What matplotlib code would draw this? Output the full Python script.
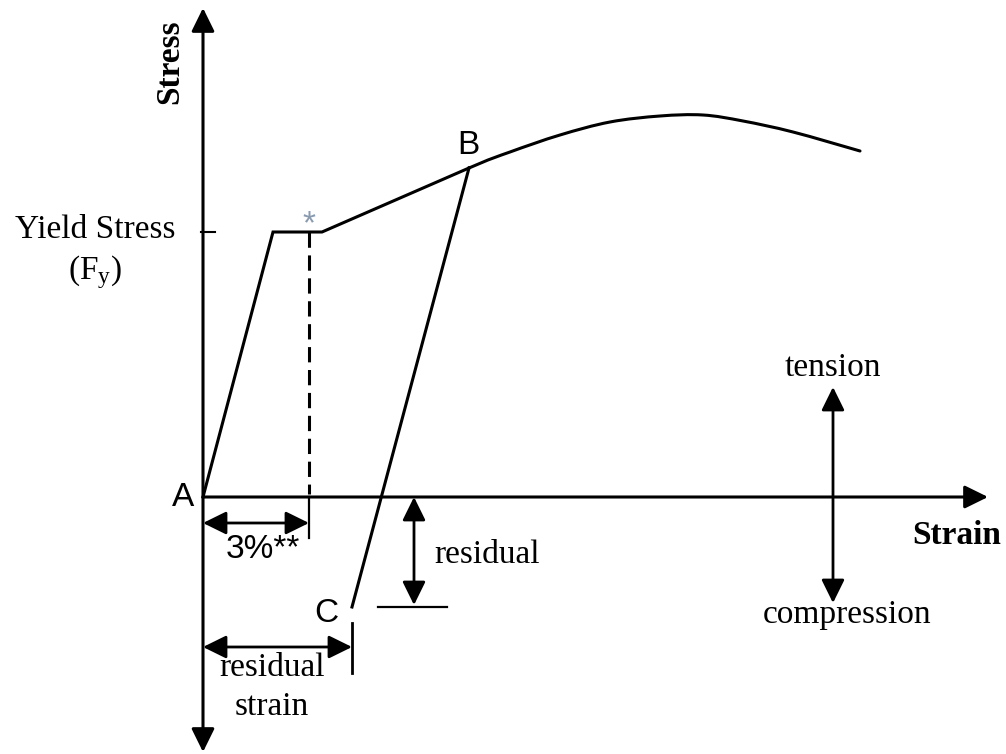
import matplotlib
matplotlib.use("Agg")
import matplotlib.pyplot as plt
from matplotlib.path import Path
from matplotlib.patches import PathPatch

plt.rcParams['mathtext.fontset'] = 'custom'
plt.rcParams['mathtext.rm'] = 'Liberation Serif'
plt.rcParams['mathtext.it'] = 'Liberation Serif:italic'

# ---- data (schematic units: strain to the right, stress upwards, origin at A)
strain_curve = [0, 70, 119, 266, 307, 357, 407, 457, 500, 540, 590, 657]
stress_curve = [0, 265, 265, 329, 345, 362, 375, 381, 382, 376, 365, 346]
yield_stress = 265
strain_3pct = 106
point_B = (266, 329)
point_C = (149, -110)
residual_stress = -110
strain_axis_end = 785
stress_axis_top = 489
stress_axis_bottom = -255

serif = 'Liberation Serif'
sans = 'Liberation Sans'
LW = 2.2
FS = 24

fig = plt.figure(figsize=(10.06, 7.54), dpi=100)
ax = fig.add_axes([0, 0, 1, 1])
ax.set_xlim(-203, 803)
ax.set_ylim(-257, 497)
ax.axis('off')

AS = 'head_length=0.65,head_width=0.32'
def arrow(p0, p1, double=False, lw=LW):
    style = ('<|-|>,' if double else '-|>,') + AS
    ax.annotate('', xy=p1, xytext=p0,
                arrowprops=dict(arrowstyle=style, lw=lw, color='black',
                                shrinkA=0, shrinkB=0, mutation_scale=22))

# axes
arrow((0, stress_axis_bottom), (0, stress_axis_top), double=True)
arrow((0, 0), (strain_axis_end, 0))
ax.plot([-2, 12], [yield_stress, yield_stress], color='black', lw=1.5)

# stress-strain curve: straight pieces up to B, smooth path through the read points after B
iB = strain_curve.index(point_B[0])
ax.plot(strain_curve[:iB + 1], stress_curve[:iB + 1], color='black', lw=LW,
        solid_joinstyle='miter')
pts = list(zip(strain_curve[iB - 1:], stress_curve[iB - 1:]))
verts = [pts[1]]
codes = [Path.MOVETO]
for i in range(1, len(pts) - 1):
    p0 = pts[i - 1]
    p1 = pts[i]
    p2 = pts[i + 1]
    p3 = pts[i + 2] if i + 2 < len(pts) else pts[i + 1]
    c1 = (p1[0] + (p2[0] - p0[0]) / 6, p1[1] + (p2[1] - p0[1]) / 6)
    c2 = (p2[0] - (p3[0] - p1[0]) / 6, p2[1] - (p3[1] - p1[1]) / 6)
    verts += [c1, c2, p2]
    codes += [Path.CURVE4] * 3
ax.add_patch(PathPatch(Path(verts, codes), fill=False, lw=LW, edgecolor='black',
                       capstyle='round'))

# unloading B -> C
ax.plot([point_B[0], point_C[0]], [point_B[1], point_C[1]], color='black', lw=LW)

# dashed line at 3% strain
ax.plot([strain_3pct, strain_3pct], [yield_stress, 3], color='black', lw=LW,
        dashes=[5, 2.5])
ax.plot([strain_3pct, strain_3pct], [0, -41], color='black', lw=1.6)
ax.text(strain_3pct, yield_stress - 8, '*', color='#8a9bb0', fontsize=24,
        family=sans, ha='center', va='bottom')
arrow((0, -26), (strain_3pct, -26), double=True, lw=2.0)
ax.text(60, -53, '3%**', fontsize=FS, family=sans, ha='center', va='center')

# residual strain
ax.plot([point_C[0], point_C[0]], [-126, -176], color='black', lw=2.0)
arrow((0, -150), (point_C[0], -150), double=True, lw=2.0)
ax.text(69, -171, 'residual', fontsize=FS, family=serif, ha='center', va='center')
ax.text(69, -210, 'strain', fontsize=FS, family=serif, ha='center', va='center')

# residual stress
arrow((211, 0), (211, residual_stress + 2), double=True, lw=2.0)
ax.plot([175, 244], [residual_stress, residual_stress], color='black', lw=1.6)
ax.text(284, -58, 'residual', fontsize=FS, family=serif, ha='center', va='center')

# tension / compression
arrow((630, -106), (630, 110), double=True, lw=2.0)
ax.text(630, 129, 'tension', fontsize=FS, family=serif, ha='center', va='center')
ax.text(644, -118, 'compression', fontsize=FS, family=serif, ha='center', va='center')

# labels
ax.text(754, -38, 'Strain', fontsize=FS, family=serif, weight='bold',
        ha='center', va='center')
ax.text(-33, 435, 'Stress', fontsize=FS, family=serif, weight='bold',
        rotation=90, ha='center', va='center')
ax.text(-108, 267, 'Yield Stress', fontsize=FS, family=serif, ha='center', va='center')
ax.text(-108, 225, r'(F$_{\mathrm{y}}$)', fontsize=FS, family=serif, ha='center', va='center')
ax.text(-20, 0, 'A', fontsize=FS, family=sans, ha='center', va='center')
ax.text(point_B[0] - 1, point_B[1] + 23, 'B', fontsize=FS, family=sans, ha='center', va='center')
ax.text(123, -116, 'C', fontsize=FS, family=sans, ha='center', va='center')

fig.savefig('out.png', dpi=100)
